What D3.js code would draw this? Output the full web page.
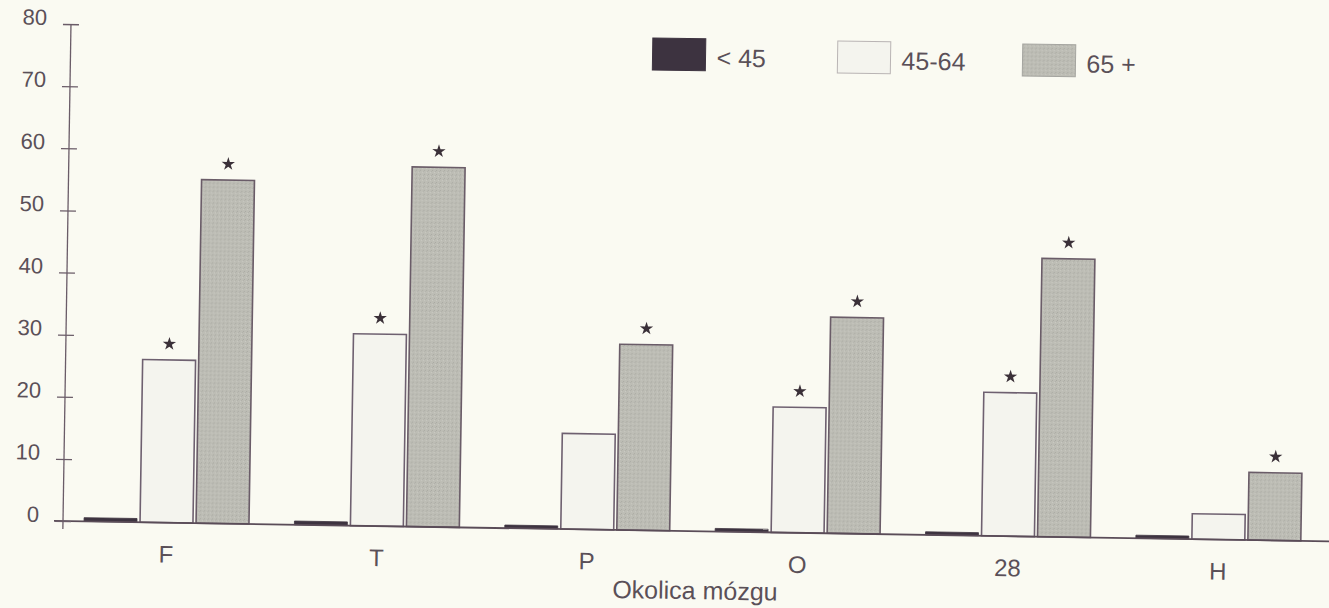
<!DOCTYPE html>
<html>
<head>
<meta charset="utf-8">
<script src="https://cdn.jsdelivr.net/npm/d3@7"></script>
<style>
  html, body { margin: 0; padding: 0; background: #fafaf2; }
  svg { display: block; }
  text { font-family: "Liberation Sans", Arial, sans-serif; fill: #5a5058; }
</style>
</head>
<body>
<svg id="chart" width="1329" height="608"></svg>
<script>
// ---- data ----
const categories = ["F", "T", "P", "O", "28", "H"];
const seriesNames = ["< 45", "45-64", "65 +"];
const valuesUnder45 = [0.6, 0.6, 0.5, 0.5, 0.5, 0.5];
const values45to64 = [26.2, 30.9, 15.4, 20.2, 23.1, 4.1];
const values65plus = [55.3, 57.9, 29.9, 34.8, 44.8, 10.9];
const starUnder45 = [false, false, false, false, false, false];
const star45to64 = [true, true, false, true, true, false];
const star65plus = [true, true, true, true, true, true];
const yTicks = [0, 10, 20, 30, 40, 50, 60, 70, 80];
const xAxisTitle = "Okolica mózgu";

const seriesValues = [valuesUnder45, values45to64, values65plus];
const seriesStars = [starUnder45, star45to64, star65plus];
const fills = ["#3d3340", "#f4f4ee", "#bcbcb4"];
const strokes = ["#3d3340", "#6e6070", "#6a5c68"];

const svg = d3.select("#chart");
svg.append("rect").attr("width", 1329).attr("height", 608).attr("fill", "#fafaf2");

// gray texture pattern
const defs = svg.append("defs");
const pat = defs.append("pattern").attr("id", "grain").attr("width", 4).attr("height", 4)
  .attr("patternUnits", "userSpaceOnUse");
pat.append("rect").attr("width", 4).attr("height", 4).attr("fill", "#bdbdb5");
pat.append("rect").attr("x", 0).attr("y", 0).attr("width", 1).attr("height", 1).attr("fill", "#a9a9a2");
pat.append("rect").attr("x", 2).attr("y", 2).attr("width", 1).attr("height", 1).attr("fill", "#cacac3");
pat.append("rect").attr("x", 3).attr("y", 1).attr("width", 1).attr("height", 1).attr("fill", "#b0b0a9");

// whole scanned page is slightly rotated
const g = svg.append("g").attr("transform", "rotate(0.92, 60, 521)");

const axisX = 63;
const y = d3.scaleLinear().domain([0, 80]).range([521, 24]);
const x0 = d3.scaleBand().domain(categories).range([63, 1322]).paddingInner(0.216).paddingOuter(0.1);
const x1 = d3.scaleBand().domain(d3.range(3)).range([0, x0.bandwidth()]).paddingInner(0.055);

// bars
const groups = g.selectAll("g.grp").data(categories).join("g")
  .attr("class", "grp")
  .attr("transform", d => `translate(${x0(d)},0)`);

groups.each(function(cat, ci) {
  const gg = d3.select(this);
  seriesValues.forEach((vals, si) => {
    const v = vals[ci];
    gg.append("rect")
      .attr("x", x1(si))
      .attr("y", y(v))
      .attr("width", x1.bandwidth())
      .attr("height", y(0) - y(v))
      .attr("fill", si === 2 ? "url(#grain)" : fills[si])
      .attr("stroke", strokes[si])
      .attr("stroke-width", si === 0 ? 0.8 : 1.6);
    if (seriesStars[si][ci]) {
      gg.append("path")
        .attr("d", d3.symbol(d3.symbolStar, 55)())
        .attr("transform", `translate(${x1(si) + x1.bandwidth() / 2},${y(v) - 16})`)
        .attr("fill", "#3a3038");
    }
  });
});

// x axis line
g.append("line").attr("x1", 54).attr("x2", 1345).attr("y1", y(0)).attr("y2", y(0))
  .attr("stroke", "#5a4c58").attr("stroke-width", 1.8);

// y axis with crossing ticks
const yAxis = g.append("g").attr("transform", `translate(${axisX},0)`)
  .call(d3.axisLeft(y).tickValues(yTicks).tickSize(0).tickFormat(d3.format("d")));
yAxis.select(".domain").remove();
yAxis.append("line").attr("x1", 0).attr("x2", 0).attr("y1", y(80)).attr("y2", y(0) + 8)
  .attr("stroke", "#6a5c68").attr("stroke-width", 1.3);
yAxis.selectAll(".tick").append("line").attr("x1", -8).attr("x2", 8)
  .attr("stroke", "#6a5c68").attr("stroke-width", 1.3);
yAxis.selectAll(".tick text")
  .attr("x", -24).attr("dy", "0.35em")
  .attr("transform", "translate(0,-7)")
  .style("font-size", "22px")
  .style("font-family", "'Liberation Sans', Arial, sans-serif")
  .attr("fill", "#5a5058");

// category labels
const xAxis = g.append("g").attr("transform", `translate(0,${y(0)})`)
  .call(d3.axisBottom(x0).tickSize(0));
xAxis.select(".domain").remove();
xAxis.selectAll(".tick text")
  .attr("transform", d => `translate(${x1(1) + x1.bandwidth() / 2 - x0.bandwidth() / 2},0)`)
  .attr("y", 40)
  .attr("dy", 0)
  .style("font-size", "24px")
  .style("font-family", "'Liberation Sans', Arial, sans-serif")
  .attr("fill", "#5a5058");

// axis title
g.append("text").attr("x", 696).attr("y", 589).attr("text-anchor", "middle")
  .style("font-size", "25px").text(xAxisTitle);

// legend
const legend = g.append("g");
const legX = d3.scalePoint().domain(d3.range(3)).range([645, 1015]);
seriesNames.forEach((name, si) => {
  const lx = legX(si);
  legend.append("rect").attr("x", lx).attr("y", 28.5).attr("width", 53).attr("height", 32)
    .attr("fill", si === 2 ? "url(#grain)" : fills[si])
    .attr("stroke", si === 1 ? "#b9b4b4" : (si === 2 ? "#a5a5a0" : fills[0]))
    .attr("stroke-width", 1);
  legend.append("text").attr("x", lx + 64).attr("y", 56)
    .style("font-size", "25px").text(name);
});
</script>
</body>
</html>
